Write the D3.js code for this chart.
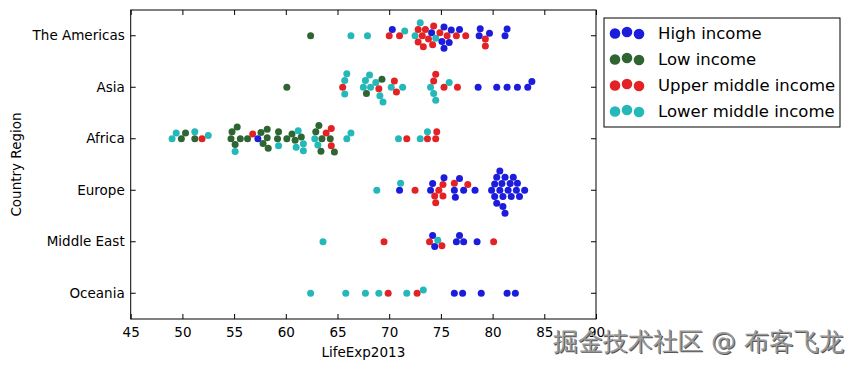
<!DOCTYPE html>
<html>
<head>
<meta charset="utf-8">
<script src="https://cdn.jsdelivr.net/npm/d3@7"></script>
<style>
  body { margin: 0; background: #fff; }
  svg text { font-family: "DejaVu Sans", sans-serif; }
</style>
</head>
<body>
<div id="chart"></div>
<script>
var svgWidth = 852;
var svgHeight = 370;
var plot = { left: 130.7, right: 596, top: 10, bottom: 319 };

var regions = ["The Americas", "Asia", "Africa", "Europe", "Middle East", "Oceania"];
var incomeKeys = ["high", "low", "upper", "lower"];
var incomeGroups = ["High income", "Low income", "Upper middle income", "Lower middle income"];
var groupColors = ["#1c1cdc", "#2f6532", "#e32226", "#25b8b8"];
var xTicks = [45, 50, 55, 60, 65, 70, 75, 80, 85, 90];

// LifeExp2013 values, per region and income group
var americas = {
  high: [70.3, 74.1, 75.1, 75.3, 75.3, 75.8, 76.0, 76.8, 78.7, 78.8, 79.7, 81.2, 81.4],
  low: [62.4],
  upper: [70.0, 71.0, 72.8, 72.8, 73.2, 73.3, 73.5, 73.8, 74.2, 74.3, 74.9, 75.6, 76.5, 77.4, 79.3, 79.3],
  lower: [66.3, 67.9, 71.5, 72.5, 73.0, 74.5]
};
var asia = {
  high: [78.6, 80.4, 81.4, 82.4, 83.4, 83.8],
  low: [60.1, 67.8, 69.3],
  upper: [65.5, 69.0, 70.5, 70.7, 74.3, 74.5, 75.3, 76.6],
  lower: [65.7, 65.7, 65.9, 67.5, 67.7, 68.1, 68.2, 68.7, 69.1, 69.4, 70.2, 71.3, 74.0, 74.3, 74.5, 75.8]
};
var africa = {
  high: [57.3],
  low: [49.9, 50.3, 51.2, 54.7, 54.8, 55.1, 55.3, 55.6, 56.3, 57.6, 57.8, 58.2, 58.2, 58.3, 59.2, 59.3,
        60.1, 60.6, 60.9, 61.5, 62.9, 63.2, 63.4, 63.5, 64.3, 64.7],
  upper: [51.9, 56.8, 63.9, 64.4, 64.4, 71.7, 73.7, 74.5, 74.6],
  lower: [49.0, 49.4, 51.2, 52.5, 55.1, 59.3, 61.0, 61.2, 61.7, 61.7, 62.8, 63.1, 65.9, 66.3, 70.9, 73.0, 73.7]
};
var europe = {
  high: [71.0, 74.0, 74.2, 75.3, 76.3, 76.4, 76.8, 77.2, 78.3, 79.9, 80.2, 80.2, 80.4, 80.4, 80.7, 80.7,
         80.9, 81.0, 81.0, 81.2, 81.2, 81.5, 81.7, 81.8, 82.0, 82.3, 82.4, 82.6, 83.1],
  low: [],
  upper: [72.5, 74.4, 74.5, 74.8, 75.2, 75.2, 76.3, 77.6],
  lower: [68.8, 71.1]
};
var middleEast = {
  high: [74.2, 74.4, 76.5, 76.8, 77.2, 78.5],
  low: [],
  upper: [69.5, 73.9, 75.1, 80.1],
  lower: [63.6, 74.7]
};
var oceania = {
  high: [76.3, 77.1, 78.9, 81.4, 82.2],
  low: [],
  upper: [69.9, 72.7],
  lower: [62.4, 65.8, 67.7, 69.0, 71.7, 73.3]
};
var regionData = [americas, asia, africa, europe, middleEast, oceania];

var svg = d3.select("#chart")
  .append("svg")
  .attr("width", svgWidth)
  .attr("height", svgHeight);

var x = d3.scaleLinear().domain([45, 90]).range([plot.left, plot.right]);
var y = d3.scaleBand().domain(regions).range([plot.top, plot.bottom]);

var radius = 3.5;

// beeswarm: place each point at the closest free spot to the category line
function swarm(points, d) {
  points.sort(function(a, b) { return a.px - b.px; });
  var placed = [];
  points.forEach(function(p) {
    var near = placed.filter(function(q) { return Math.abs(q.px - p.px) < d; });
    var cands = [0];
    near.forEach(function(q) {
      var dy = Math.sqrt(d * d - (q.px - p.px) * (q.px - p.px));
      cands.push(q.off - dy, q.off + dy);
    });
    cands.sort(function(a, b) { return Math.abs(a) - Math.abs(b); });
    p.off = cands.find(function(c) {
      return near.every(function(q) { return Math.hypot(q.px - p.px, q.off - c) >= d - 1e-6; });
    });
    placed.push(p);
  });
  return points;
}

var points = [];
regions.forEach(function(region, ri) {
  var pts = [];
  incomeKeys.forEach(function(k, gi) {
    regionData[ri][k].forEach(function(v) {
      pts.push({ region: region, group: gi, value: v, px: x(v) });
    });
  });
  points = points.concat(swarm(pts, radius * 2));
});

// axes
var bottomAxis = d3.axisBottom(x).tickValues(xTicks).tickSizeInner(-5).tickSizeOuter(0).tickPadding(8);
var topAxis = d3.axisTop(x).tickValues(xTicks).tickSizeInner(-5).tickSizeOuter(0).tickFormat("");
var leftAxis = d3.axisLeft(y).tickSizeInner(-5).tickSizeOuter(0).tickPadding(6);
var rightAxis = d3.axisRight(y).tickSizeInner(-5).tickSizeOuter(0).tickFormat("");

function styleAxis(g) {
  g.select(".domain").remove();
  g.attr("font-family", "DejaVu Sans, sans-serif").attr("font-size", 13.5).attr("color", "#000");
}

svg.append("g").attr("transform", `translate(0,${plot.bottom})`).call(bottomAxis).call(styleAxis);
svg.append("g").attr("transform", `translate(0,${plot.top})`).call(topAxis).call(styleAxis);
svg.append("g").attr("transform", `translate(${plot.left},0)`).call(leftAxis).call(styleAxis);
svg.append("g").attr("transform", `translate(${plot.right},0)`).call(rightAxis).call(styleAxis);

svg.append("rect")
  .attr("x", plot.left)
  .attr("y", plot.top)
  .attr("width", plot.right - plot.left)
  .attr("height", plot.bottom - plot.top)
  .attr("fill", "none")
  .attr("stroke", "#000")
  .attr("stroke-width", 1);

svg.append("g").selectAll("circle")
  .data(points)
  .enter()
  .append("circle")
  .attr("cx", d => d.px)
  .attr("cy", d => y(d.region) + y.bandwidth() / 2 + d.off)
  .attr("r", radius)
  .attr("fill", d => groupColors[d.group]);

// axis titles
svg.append("text")
  .attr("x", (plot.left + plot.right) / 2)
  .attr("y", 357)
  .attr("text-anchor", "middle")
  .attr("font-size", 13.5)
  .text("LifeExp2013");

svg.append("text")
  .attr("transform", `translate(21,${(plot.top + plot.bottom) / 2}) rotate(-90)`)
  .attr("text-anchor", "middle")
  .attr("font-size", 13.5)
  .text("Country Region");

// legend
var legend = svg.append("g").attr("transform", "translate(604,18)");
legend.append("rect")
  .attr("width", 236)
  .attr("height", 109)
  .attr("fill", "#fff")
  .attr("stroke", "#000")
  .attr("stroke-width", 1);

var markerDx = [11, 23, 35];
var markerDy = [0.5, -1, 1];
var item = legend.selectAll("g.item")
  .data(incomeGroups)
  .enter()
  .append("g")
  .attr("class", "item")
  .attr("transform", (d, i) => `translate(0,${15 + i * 26})`);

markerDx.forEach(function(dx, j) {
  item.append("circle")
    .attr("cx", dx)
    .attr("cy", markerDy[j])
    .attr("r", 5.3)
    .attr("fill", (d, i) => groupColors[i]);
});

item.append("text")
  .attr("x", 54)
  .attr("dy", "0.36em")
  .attr("font-size", 16.5)
  .text(d => d);

// watermark (embossed look: dark shadow under a grey face)
var mark = "掘金技术社区 @ 布客飞龙";
svg.append("text")
  .attr("x", 554)
  .attr("y", 351)
  .attr("font-family", "Noto Sans CJK SC, sans-serif")
  .attr("font-size", 25)
  .attr("fill", "#555")
  .text(mark);
svg.append("text")
  .attr("x", 553)
  .attr("y", 350)
  .attr("font-family", "Noto Sans CJK SC, sans-serif")
  .attr("font-size", 25)
  .attr("fill", "#9a9a9a")
  .text(mark);
</script>
</body>
</html>
